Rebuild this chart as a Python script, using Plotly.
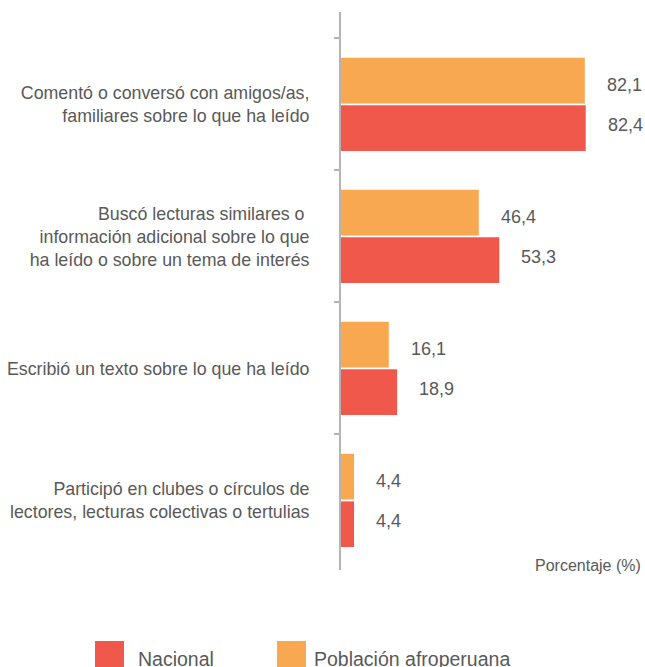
import plotly.graph_objects as go

categories = [
    "Comentó o conversó con amigos/as,<br>familiares sobre lo que ha leído",
    "Buscó lecturas similares o <br>información adicional sobre lo que<br>ha leído o sobre un tema de interés",
    "Escribió un texto sobre lo que ha leído",
    "Participó en clubes o círculos de<br>lectores, lecturas colectivas o tertulias",
]
series_afro_name = "Población afroperuana"
series_nac_name = "Nacional"
afro_values = [82.1, 46.4, 16.1, 4.4]
nac_values = [82.4, 53.3, 18.9, 4.4]
x_title = "Porcentaje (%)"

ORANGE = "#F9A852"
RED = "#F0584B"
TEXT = "#595959"
AXIS = "#B4B4B4"
FONT = "Liberation Sans, Arial, sans-serif"

def fmt(v):
    return f"{v:.1f}".replace(".", ",")

fig = go.Figure()
fig.add_trace(go.Bar(y=categories, x=afro_values, orientation="h", name=series_afro_name,
                     marker=dict(color=ORANGE, line=dict(width=0)), showlegend=False,
                     hoverinfo="skip"))
fig.add_trace(go.Bar(y=categories, x=nac_values, orientation="h", name=series_nac_name,
                     marker=dict(color=RED, line=dict(width=0)), showlegend=False,
                     hoverinfo="skip"))

annotations = []
for c, v in zip(categories, afro_values):
    annotations.append(dict(x=v, y=c, xref="x", yref="y", text=fmt(v), showarrow=False,
                            xanchor="left", yanchor="middle", xshift=20, yshift=19,
                            font=dict(size=18, color=TEXT, family=FONT)))
for c, v in zip(categories, nac_values):
    annotations.append(dict(x=v, y=c, xref="x", yref="y", text=fmt(v), showarrow=False,
                            xanchor="left", yanchor="middle", xshift=20, yshift=-21,
                            font=dict(size=18, color=TEXT, family=FONT)))

annotations.append(dict(x=1, y=0, xref="paper", yref="paper", text=x_title, showarrow=False,
                        xanchor="right", yanchor="middle", xshift=5, yshift=5,
                        font=dict(size=16, color=TEXT, family=FONT)))

W, H = 645, 667
ml, mr, mt, mb = 341, 7, 12, 97
pw, ph = W - ml - mr, H - mt - mb

def px_to_paper_x(px):
    return (px - ml) / pw

def px_to_paper_y(py):
    return (H - mb - py) / ph

# custom legend (large squares as in the reference)
legend_items = [(series_nac_name, RED, 95, 136), (series_afro_name, ORANGE, 277, 312)]
shapes = []
for name, color, sx, tx in legend_items:
    shapes.append(dict(type="rect", xref="paper", yref="paper",
                       x0=px_to_paper_x(sx), x1=px_to_paper_x(sx + 29),
                       y0=px_to_paper_y(641), y1=px_to_paper_y(670),
                       fillcolor=color, line=dict(width=0)))
    annotations.append(dict(x=px_to_paper_x(tx), y=px_to_paper_y(659), xref="paper", yref="paper",
                            text=name, showarrow=False, xanchor="left", yanchor="middle",
                            font=dict(size=19.5, color=TEXT, family=FONT)))

fig.update_layout(
    width=W, height=H,
    margin=dict(l=ml, r=mr, t=mt, b=mb, autoexpand=False),
    paper_bgcolor="white", plot_bgcolor="white",
    barmode="group", bargap=0.28, bargroupgap=0.04,
    showlegend=False, hovermode=False,
    annotations=annotations, shapes=shapes,
    font=dict(family=FONT, color=TEXT),
)
fig.update_xaxes(range=[0, 100], visible=False, showgrid=False, zeroline=False)
fig.update_yaxes(type="category", range=[3.527, -0.7], showline=True, linecolor=AXIS, linewidth=2,
                 ticks="outside", ticklen=5, tickcolor=AXIS, tickwidth=1.5,
                 tickson="boundaries", showgrid=False, zeroline=False,
                 tickfont=dict(size=17.8, color=TEXT, family=FONT), ticklabelstandoff=26)

fig.write_html("out.html", config={"displayModeBar": False},
               post_script="document.body.style.margin='0';")
